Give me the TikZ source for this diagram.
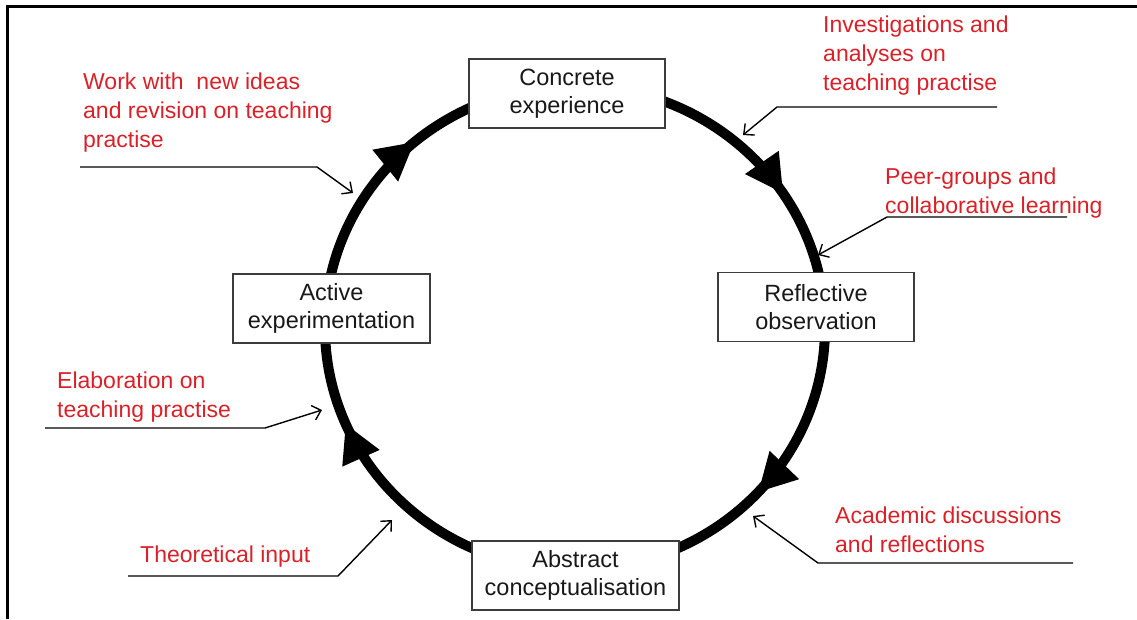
\documentclass[tikz,border=0pt]{standalone}
\usepackage{fontspec}
\setmainfont{Liberation Sans}
\usetikzlibrary{arrows.meta,decorations.markings}
\definecolor{lblred}{RGB}{218,32,40}
\definecolor{boxline}{RGB}{60,60,60}
\definecolor{boxtext}{RGB}{25,25,25}
\begin{document}
\begin{tikzpicture}[x=1pt,y=-1pt,
  stage/.style={draw=boxline, line width=1.5pt, fill=white, minimum height=69pt,
    inner sep=0pt, align=center, text=boxtext, font=\fontsize{23.5}{27.5}\selectfont},
  note/.style={anchor=base west, inner sep=0pt, align=left, text=lblred,
    font=\fontsize{23}{29}\selectfont},
  pointer/.style={line width=1.4pt, -{Straight Barb[length=8pt,width=15pt]}},
  loopline/.style={line width=10pt},
  bigtip/.style={decoration={markings,
    mark=at position 0.118 with {\arrow{Triangle[length=38pt,width=38pt]}},
    mark=at position 0.436 with {\arrow{Triangle[length=38pt,width=38pt]}},
    mark=at position 0.638 with {\arrow{Triangle[length=38pt,width=38pt]}},
    mark=at position 0.908 with {\arrow{Triangle[length=38pt,width=38pt]}}},
    postaction={decorate}}
  ]
\useasboundingbox (0,0) rectangle (1137,619);
% frame
\draw[line width=2.5pt] (1137,6.5) -- (7.5,6.5) -- (7.5,619);
% cycle
\draw[loopline, bigtip] (825,327.5) arc[start angle=0, end angle=360, x radius=250, y radius=242];
% stages
\node[stage, minimum width=196pt] (ce) at (567,93.5) {Concrete\\experience};
\node[stage, minimum width=196pt] (ro) at (816,307) {Reflective\\observation};
\node[stage, minimum width=207pt] (ac) at (575.5,575.5) {Abstract\\conceptualisation};
\node[stage, minimum width=197pt] (ae) at (331.5,308.5) {Active\\experimentation};
% notes (anchor = baseline of the last line)
\node[note] (n1) at (83,147) {Work with\ \ new ideas\\and revision on teaching\\practise};
\node[note] (n2) at (823,90) {Investigations and\\analyses on\\teaching practise};
\node[note] (n3) at (885,213) {Peer-groups and\\collaborative learning};
\node[note] (n4) at (57,417) {Elaboration on\\teaching practise};
\node[note] (n5) at (140,562) {Theoretical input};
\node[note] (n6) at (835,552) {Academic discussions\\and reflections};
% pointer coordinates
\coordinate (p1a) at (80,167);   \coordinate (p1b) at (317,167);  \coordinate (p1t) at (353,193);
\coordinate (p2a) at (997,107);  \coordinate (p2b) at (777,107);  \coordinate (p2t) at (743,135);
\coordinate (p3a) at (1067,217); \coordinate (p3b) at (887,217);  \coordinate (p3t) at (818,255);
\coordinate (p4a) at (45,428);   \coordinate (p4b) at (265,428);  \coordinate (p4t) at (322,410);
\coordinate (p5a) at (128,576);  \coordinate (p5b) at (338,576);  \coordinate (p5t) at (392,520);
\coordinate (p6a) at (1073,563); \coordinate (p6b) at (818,563);  \coordinate (p6t) at (753,516);
\draw[pointer] (p1a) -- (p1b) -- (p1t);
\draw[pointer] (p2a) -- (p2b) -- (p2t);
\draw[pointer] (p3a) -- (p3b) -- (p3t);
\draw[pointer] (p4a) -- (p4b) -- (p4t);
\draw[pointer] (p5a) -- (p5b) -- (p5t);
\draw[pointer] (p6a) -- (p6b) -- (p6t);
\end{tikzpicture}
\end{document}
